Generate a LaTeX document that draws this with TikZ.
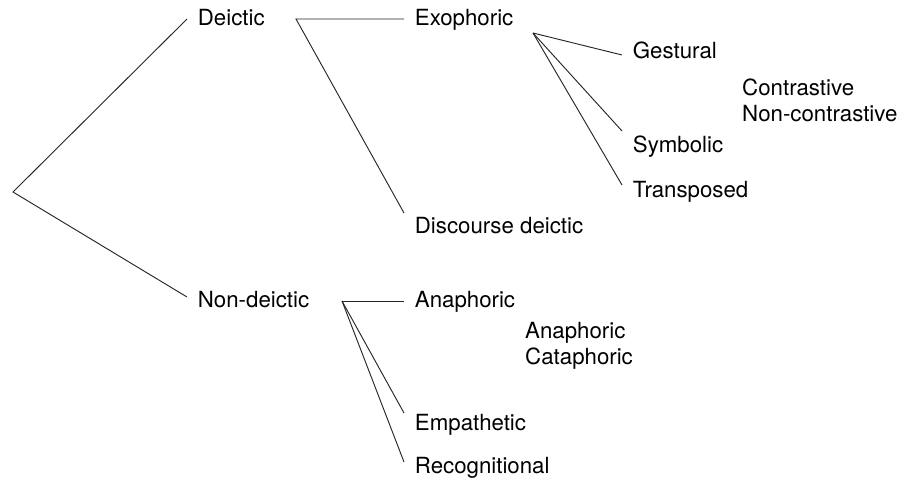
\documentclass[tikz,border=0pt]{standalone}
\usepackage{fontspec}
\setmainfont{TeX Gyre Heros}
\usetikzlibrary{positioning}

\tikzset{
    term/.style={anchor=west, inner xsep=0.32cm, inner ysep=0pt, text height=1.12em, text depth=0pt, font=\fontsize{19}{22.5}\selectfont},
    plain/.style={anchor=west, inner sep=0pt, text height=1.12em, text depth=0pt, font=\fontsize{19}{22.5}\selectfont},
    branch/.style={line width=0.8pt, black!85}
}

\begin{document}
\begin{tikzpicture}[x=0.03cm, y=-0.03cm]
\useasboundingbox (0,0) rectangle (905,484);

% branch points
\coordinate (root) at (13,192);
\coordinate (dbr) at (296,19);
\coordinate (ebr) at (533,33);
\coordinate (nbr) at (342,301);

% first level
\node[term] (deictic) at (187,19) {Deictic};
\node[term] (nondeictic) at (187,301) {Non-deictic};

% deictic
\node[term] (exophoric) at (404,19) {Exophoric};
\node[term] (discourse) at (404,227) {Discourse deictic};

% exophoric
\node[term] (gestural) at (622,52) {Gestural};
\node[term] (symbolic) at (622,146) {Symbolic};
\node[term] (transposed) at (622,191) {Transposed};
\node[plain] (contrastive) at (742,89) {Contrastive};
\node[plain] (noncontrastive) at (742,115) {Non-contrastive};

% non-deictic
\node[term] (anaphoric) at (404,301) {Anaphoric};
\node[term] (empathetic) at (404,424) {Empathetic};
\node[term] (recognitional) at (404,467) {Recognitional};
\node[plain] (anaph) at (525,332) {Anaphoric};
\node[plain] (cataph) at (525,358) {Cataphoric};

\draw[branch] (deictic.west) -- (root) -- ([yshift=0.12cm]nondeictic.west);

\draw[branch] (exophoric.west) -- (dbr) -- ([yshift=0.42cm]discourse.west);

\draw[branch] (ebr) -- ([yshift=-0.09cm]gestural.west);
\draw[branch] (ebr) -- ([yshift=0.45cm]symbolic.west);
\draw[branch] (ebr) -- ([yshift=0.18cm]transposed.west);

\draw[branch] (nbr) -- (anaphoric.west);
\draw[branch] (nbr) -- ([yshift=0.33cm]empathetic.west);
\draw[branch] (nbr) -- ([yshift=0.15cm]recognitional.west);

\end{tikzpicture}
\end{document}
